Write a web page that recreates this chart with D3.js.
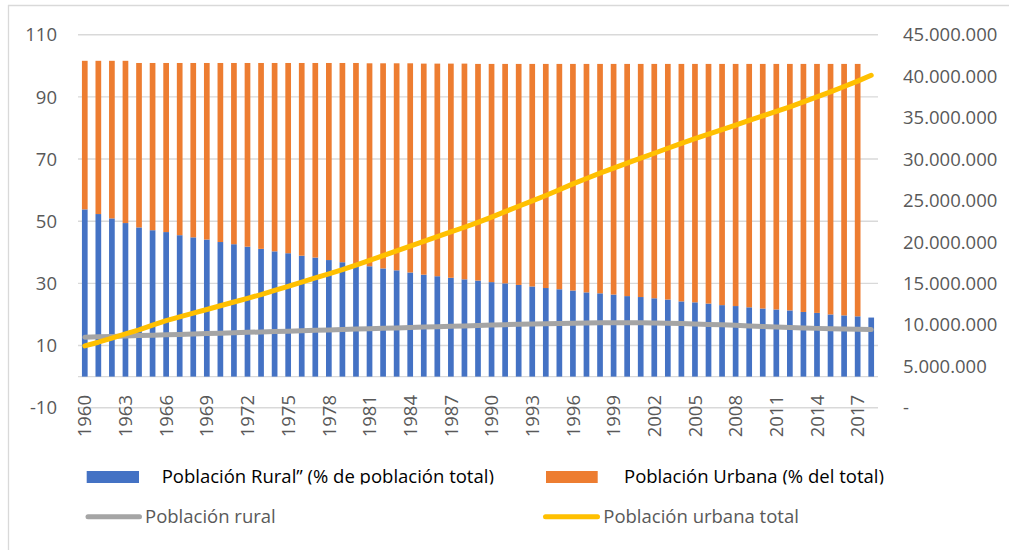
<!DOCTYPE html>
<html>
<head>
<meta charset="utf-8">
<script src="https://cdn.jsdelivr.net/npm/d3@7"></script>
<style>
  html, body { margin: 0; padding: 0; background: #fff; }
  svg { display: block; font-family: "Open Sans", "Noto Sans", sans-serif; }
</style>
</head>
<body>
<svg id="chart" width="1009" height="550"></svg>
<script>
// ---------------- DATA ----------------
const years = d3.range(1960, 2019).map(String);

// Población Rural (% de población total)
const ruralPct = [53.8, 52.3, 50.9, 49.4, 48.0, 47.1, 46.5, 45.5, 44.8, 44.1,
  43.3, 42.6, 41.8, 41.1, 40.3, 39.7, 38.9, 38.3, 37.5, 36.8,
  36.1, 35.5, 34.8, 34.2, 33.5, 32.8, 32.3, 31.8, 31.3, 30.9,
  30.4, 30.0, 29.5, 29.0, 28.5, 28.1, 27.7, 27.1, 26.8, 26.4,
  25.9, 25.6, 25.2, 24.8, 24.2, 23.9, 23.5, 23.0, 22.7, 22.3,
  21.9, 21.6, 21.3, 20.8, 20.5, 20.0, 19.7, 19.4, 19.0];

// Población Urbana (% del total)
const urbanPct = [47.8, 49.3, 50.7, 52.2, 52.9, 53.8, 54.4, 55.4, 56.1, 56.8,
  57.6, 58.3, 59.1, 59.8, 60.6, 61.2, 62.0, 62.6, 63.4, 64.1,
  64.8, 65.3, 66.0, 66.6, 67.3, 67.9, 68.4, 68.9, 69.4, 69.7,
  70.2, 70.6, 71.1, 71.6, 72.1, 72.5, 72.9, 73.5, 73.8, 74.2,
  74.7, 75.0, 75.4, 75.8, 76.4, 76.7, 77.1, 77.6, 77.9, 78.3,
  78.7, 79.0, 79.3, 79.8, 80.1, 80.6, 80.9, 81.2, null];

// Población rural (personas)
const ruralPop = [8500000, 8550000, 8600000, 8650000, 8700000, 8740000, 8790000, 8840000, 8890000, 8940000,
  8990000, 9040000, 9090000, 9140000, 9190000, 9230000, 9280000, 9330000, 9380000, 9430000,
  9480000, 9530000, 9580000, 9630000, 9680000, 9730000, 9770000, 9820000, 9870000, 9920000,
  9970000, 10020000, 10060000, 10100000, 10140000, 10170000, 10200000, 10220000, 10240000, 10250000,
  10250000, 10240000, 10220000, 10190000, 10150000, 10100000, 10050000, 10000000, 9940000, 9870000,
  9800000, 9740000, 9680000, 9620000, 9570000, 9530000, 9490000, 9450000, 9420000];

// Población urbana total (personas)
const urbanPop = [7450000, 7900000, 8400000, 8900000, 9400000, 9950000, 10500000, 10950000, 11400000, 11850000,
  12300000, 12750000, 13200000, 13650000, 14150000, 14650000, 15150000, 15650000, 16150000, 16650000,
  17200000, 17770000, 18340000, 18910000, 19490000, 20060000, 20630000, 21200000, 21770000, 22350000,
  23000000, 23650000, 24300000, 24950000, 25600000, 26300000, 27000000, 27650000, 28300000, 28900000,
  29500000, 30100000, 30700000, 31300000, 31900000, 32450000, 33000000, 33550000, 34100000, 34650000,
  35200000, 35750000, 36300000, 36900000, 37500000, 38100000, 38750000, 39400000, 40100000];

const leftTicks = [-10, 10, 30, 50, 70, 90, 110];
const rightTicks = [0, 5000000, 10000000, 15000000, 20000000, 25000000, 30000000, 35000000, 40000000, 45000000];
const xTickLabels = ["1960","1963","1966","1969","1972","1975","1978","1981","1984","1987","1990",
  "1993","1996","1999","2002","2005","2008","2011","2014","2017"];

const seriesNames = {
  ruralPct: "Población Rural” (% de población total)",
  urbanPct: "Población Urbana (% del total)",
  ruralPop: "Población rural",
  urbanPop: "Población urbana total"
};

// ---------------- STYLE ----------------
const C = { blue: "#4472C4", orange: "#ED7D31", gray: "#A5A5A5", yellow: "#FFC000",
            grid: "#D9D9D9", text: "#595959" };
const FS = 18.5;

// ---------------- CHART ----------------
const svg = d3.select("#chart");
const plot = { left: 78, right: 878, top: 34.7, bottom: 407.7 };

// outer border (top & left visible)
svg.append("line").attr("x1", 8).attr("x2", 1012).attr("y1", 5.5).attr("y2", 5.5)
  .attr("stroke", C.grid).attr("stroke-width", 1.3);
svg.append("line").attr("x1", 8.5).attr("x2", 8.5).attr("y1", 5).attr("y2", 552)
  .attr("stroke", C.grid).attr("stroke-width", 1.3);

const x = d3.scaleBand().domain(years).range([plot.left, plot.right])
  .paddingInner(0.58).paddingOuter(0.29);
const yL = d3.scaleLinear().domain([-10, 110]).range([plot.bottom, plot.top]);
const yR = d3.scaleLinear().domain([0, 45000000]).range([plot.bottom, plot.top]);
const cx = d => x(d) + x.bandwidth() / 2;

// gridlines
svg.append("g").selectAll("line").data(leftTicks).join("line")
  .attr("x1", plot.left).attr("x2", plot.right)
  .attr("y1", d => yL(d)).attr("y2", d => yL(d))
  .attr("stroke", C.grid).attr("stroke-width", 1.4);
// category axis line at 0
svg.append("line").attr("x1", plot.left).attr("x2", plot.right)
  .attr("y1", yL(0)).attr("y2", yL(0)).attr("stroke", C.grid).attr("stroke-width", 1.4);

// stacked bars
const rows = years.map((yr, i) => ({ yr, rural: ruralPct[i], urban: urbanPct[i] }));
svg.append("g").selectAll("rect").data(rows).join("rect")
  .attr("x", d => x(d.yr)).attr("width", x.bandwidth())
  .attr("y", d => yL(d.rural)).attr("height", d => yL(0) - yL(d.rural))
  .attr("fill", C.blue);
svg.append("g").selectAll("rect").data(rows.filter(d => d.urban != null)).join("rect")
  .attr("x", d => x(d.yr)).attr("width", x.bandwidth())
  .attr("y", d => yL(d.rural + d.urban)).attr("height", d => yL(d.rural) - yL(d.rural + d.urban))
  .attr("fill", C.orange);

// lines (secondary axis)
const lineGen = arr => d3.line().x((d, i) => cx(years[i])).y(d => yR(d))(arr);
svg.append("path").attr("d", lineGen(ruralPop)).attr("fill", "none")
  .attr("stroke", C.gray).attr("stroke-width", 5).attr("stroke-linecap", "round").attr("stroke-linejoin", "round");
svg.append("path").attr("d", lineGen(urbanPop)).attr("fill", "none")
  .attr("stroke", C.yellow).attr("stroke-width", 5).attr("stroke-linecap", "round").attr("stroke-linejoin", "round");

// left axis labels
svg.append("g").selectAll("text").data(leftTicks).join("text")
  .attr("x", 57).attr("y", d => yL(d)).attr("dy", "0.36em")
  .attr("text-anchor", "end").attr("font-size", FS).attr("fill", C.text)
  .text(d => d);

// right axis labels
const loc = d3.formatLocale({ decimal: ",", thousands: ".", grouping: [3], currency: ["", ""] });
const fmt = loc.format(",.0f");
svg.append("g").selectAll("text").data(rightTicks).join("text")
  .attr("x", 903).attr("y", d => yR(d)).attr("dy", "0.36em")
  .attr("text-anchor", "start").attr("font-size", FS).attr("fill", C.text)
  .text(d => d === 0 ? "-" : fmt(d));

// x axis labels (rotated)
svg.append("g").selectAll("text").data(xTickLabels).join("text")
  .attr("transform", d => `translate(${cx(d)},395) rotate(-90)`)
  .attr("dy", "0.36em").attr("text-anchor", "end")
  .attr("font-size", FS).attr("fill", C.text)
  .text(d => d);

// legend
const defs = svg.append("defs");
defs.append("clipPath").attr("id", "legclip").append("rect")
  .attr("x", 0).attr("y", 455).attr("width", 1009).attr("height", 29.5);

const leg = svg.append("g");
leg.append("rect").attr("x", 86.7).attr("y", 471).attr("width", 52.3).attr("height", 12).attr("fill", C.blue);
leg.append("rect").attr("x", 546).attr("y", 471).attr("width", 51.7).attr("height", 12).attr("fill", C.orange);
const row1 = leg.append("g").attr("clip-path", "url(#legclip)");
row1.append("text").attr("x", 161.7).attr("y", 483.3).attr("font-size", FS).attr("fill", "#000")
  .text(seriesNames.ruralPct);
row1.append("text").attr("x", 624).attr("y", 483.3).attr("font-size", FS).attr("fill", "#000")
  .text(seriesNames.urbanPct);

leg.append("line").attr("x1", 88).attr("x2", 139.5).attr("y1", 516.7).attr("y2", 516.7)
  .attr("stroke", C.gray).attr("stroke-width", 5).attr("stroke-linecap", "round");
leg.append("text").attr("x", 145).attr("y", 523.3).attr("font-size", FS).attr("fill", C.text)
  .text(seriesNames.ruralPop);
leg.append("line").attr("x1", 545.5).attr("x2", 597.5).attr("y1", 516.7).attr("y2", 516.7)
  .attr("stroke", C.yellow).attr("stroke-width", 5).attr("stroke-linecap", "round");
leg.append("text").attr("x", 603.3).attr("y", 523.3).attr("font-size", FS).attr("fill", C.text)
  .text(seriesNames.urbanPop);
</script>
</body>
</html>
